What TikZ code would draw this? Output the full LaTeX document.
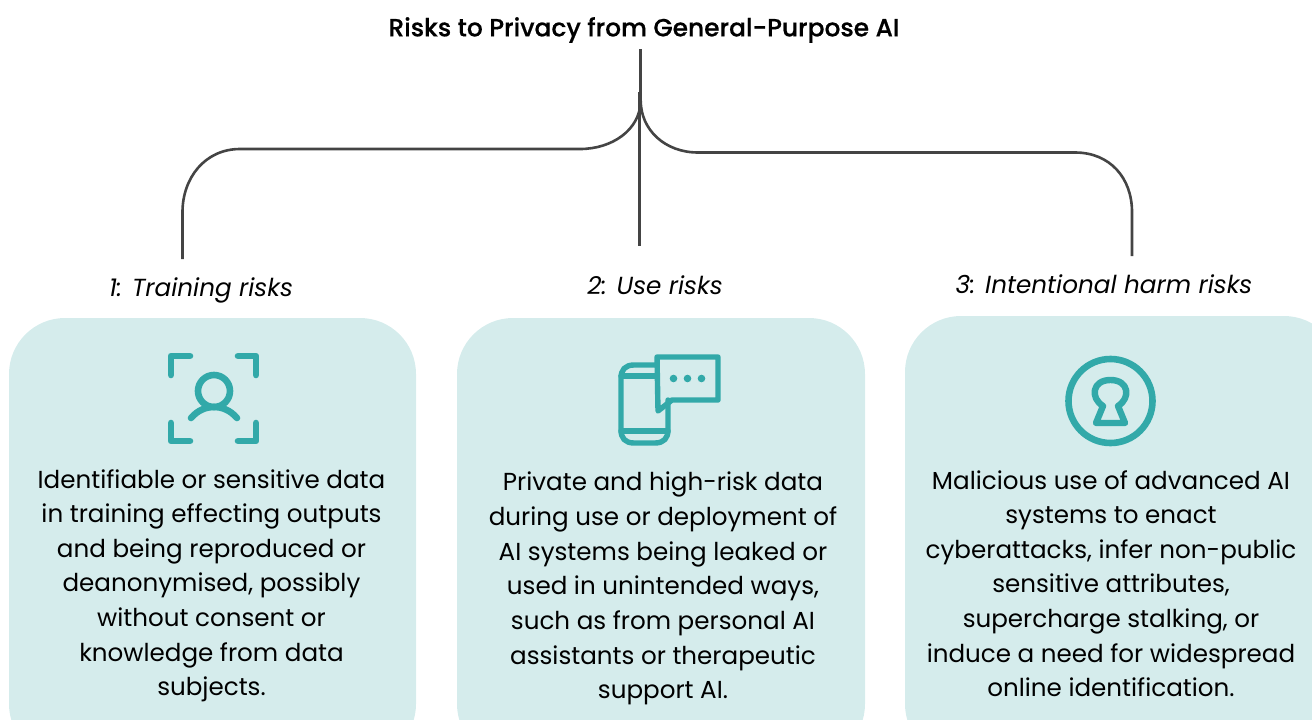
\documentclass[tikz,border=0pt]{standalone}
\usepackage{fontspec}
\setmainfont{Poppins}
\newfontfamily\titlefont[FakeBold=0.5]{Poppins Medium}
\definecolor{boxbg}{HTML}{D5ECEC}
\definecolor{teal}{HTML}{32A9A9}
\definecolor{conn}{HTML}{444444}
\tikzset{
  riskbox/.style={fill=boxbg,rounded corners=56pt},
  bodytext/.style={align=center,font=\fontsize{24.6}{34.65}\selectfont,text=black,inner sep=0pt,anchor=north},
  headtext/.style={font=\itshape\fontsize{24.7}{30}\selectfont,inner sep=0pt,anchor=base},
  link/.style={draw=conn,line width=2.6pt},
  icon/.style={draw=teal,line width=6.6pt,line cap=round,line join=round},
  iconthin/.style={draw=teal,line width=5.4pt,line cap=round,line join=round},
}
\begin{document}
\begin{tikzpicture}[x=1pt,y=-1pt]
\useasboundingbox (0,0) rectangle (1312,720);
\clip (0,0) rectangle (1312,720);
% boxes
\fill[riskbox] (9,318) rectangle (416,760);
\fill[riskbox] (457,318) rectangle (865,760);
\fill[riskbox] (905,316) rectangle (1340,760);
% title and headings
\node[font=\titlefont\fontsize{24.9}{30}\selectfont,inner sep=0pt] (title) at (644,30) {Risks to Privacy from General-Purpose AI};
\coordinate (top) at (640.7,49);
\coordinate (fork) at (640.7,101);
\coordinate (split) at (639.4,92);
\node[headtext] (h1) at (201,296) {1: Training risks};
\node[headtext] (h2) at (655,294) {2: Use risks};
\node[headtext] (h3) at (1104,293) {3: Intentional harm risks};
\coordinate (e1) at (182.5,259);
\coordinate (e2) at (639.4,246);
\coordinate (e3) at (1132,256);
% connectors
\draw[link] (top) -- (fork);
\draw[link] (split) -- (e2);
\draw[link] (fork) .. controls (640,130) and (612,149) .. (580,149) -- (240,149) .. controls (205,149) and (182.5,178) .. (182.5,212) -- (e1);
\draw[link] (fork) .. controls (641,130) and (665,152.5) .. (698,152.5) -- (1075,152.5) .. controls (1110,152.5) and (1132,178) .. (1132,212) -- (e3);
% icon 1
\begin{scope}[shift={(140,340)}]
\draw[icon] (31,35) -- (31,16) -- (50,16);
\draw[icon] (98,16) -- (116,16) -- (116,35);
\draw[icon] (31,83) -- (31,101) -- (50,101);
\draw[icon] (98,101) -- (116,101) -- (116,83);
\draw[icon] (74,51) circle (16);
\draw[icon] (51,78) .. controls (58,70) and (66,67) .. (74,67) .. controls (82,67) and (90,70) .. (97,78);
\end{scope}
% icon 2
\begin{scope}[shift={(590,340)}]
\draw[iconthin] (66,25) -- (44,25) .. controls (35,25) and (31,30) .. (31,38) -- (31,90) .. controls (31,98) and (35,103) .. (44,103) -- (65,103) .. controls (74,103) and (78,98) .. (78,90) -- (78,60);
\draw[iconthin] (31,36) -- (66,36);
\draw[iconthin] (31,91) -- (78,91);
\draw[iconthin] (67,17) -- (128,17) -- (128,60) -- (82,60) -- (68,71) -- cycle;
\fill[teal] (83.5,38.5) circle (3.8) (97.5,38.5) circle (3.8) (111.5,38.5) circle (3.8);
\end{scope}
% icon 3
\begin{scope}[shift={(1040,340)}]
\draw[icon] (70.5,61) circle (42);
\draw[iconthin,line width=6.4pt] (63,66) .. controls (50,58) and (52,40) .. (70.5,40) .. controls (89,40) and (91,58) .. (78,66) -- (85,83) -- (56,83) -- cycle;
\end{scope}
% body text
\node[bodytext] (b1) at (211.5,469) {Identifiable or sensitive data\\in training effecting outputs\\and being reproduced or\\deanonymised, possibly\\without consent or\\knowledge from data\\subjects.};
\node[bodytext] (b2) at (663,472) {Private and high-risk data\\during use or deployment of\\AI systems being leaked or\\used in unintended ways,\\such as from personal AI\\assistants or therapeutic\\support AI.};
\node[bodytext] (b3) at (1111,470) {Malicious use of advanced AI\\systems to enact\\cyberattacks, infer non-public\\sensitive attributes,\\supercharge stalking, or\\induce a need for widespread\\online identification.};
\end{tikzpicture}
\end{document}
